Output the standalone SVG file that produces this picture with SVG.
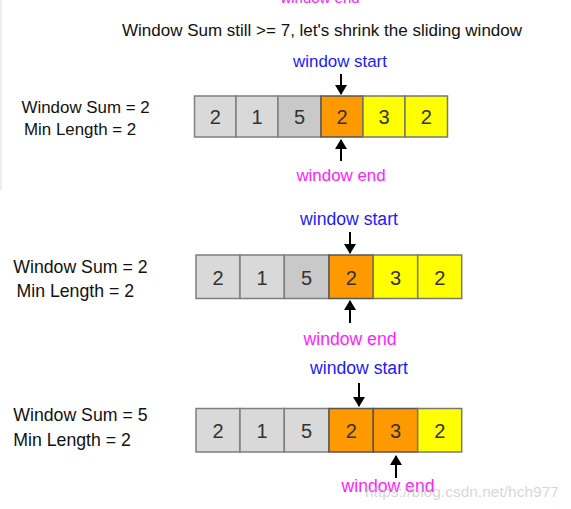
<svg xmlns="http://www.w3.org/2000/svg" width="571" height="509" viewBox="0 0 571 509">
<style>
text{font-family:"Liberation Sans",Arial,sans-serif}
.lbl{fill:#111}
.num{fill:#333;text-anchor:middle;font-size:20px}
.ws{fill:#1a1aff;text-anchor:middle}
.we{fill:#ff22ff;text-anchor:middle}
.g1{fill:#d9d9d9;stroke:#7f7f7f;stroke-width:1.5}
.g2{fill:#c9c9c9;stroke:#7f7f7f;stroke-width:1.5}
.or{fill:#ff9900;stroke:#555;stroke-width:1.5}
.ye{fill:#ffff00;stroke:#777;stroke-width:1.5}
.arr{stroke:#000;stroke-width:2;fill:none;marker-end:url(#ah)}
</style>
<defs>
<marker id="ah" viewBox="0 0 10 10" refX="9" refY="5" markerWidth="5" markerHeight="6" orient="auto" markerUnits="strokeWidth" preserveAspectRatio="none">
<path d="M0,0 L10,5 L0,10 z" fill="#000"/>
</marker>
</defs>
<rect width="571" height="509" fill="#fff"/>
<rect x="0" y="0" width="2" height="190" fill="#eeeeee"/>
<text x="320" y="3" class="we" font-size="15">window end</text>
<text id="title" x="322" y="36" font-size="17" text-anchor="middle" class="lbl">Window Sum still &gt;= 7, let's shrink the sliding window</text>

<g id="row1">
<text x="21.5" y="112.5" font-size="16.9" class="lbl">Window Sum = 2</text>
<text x="24" y="135" font-size="16.9" class="lbl">Min Length = 2</text>
<g id="r1c0"><rect x="194.5" y="96" width="41.5" height="41" class="g1"/><text x="215.2" y="124" class="num">2</text></g>
<g id="r1c1"><rect x="236" y="96" width="42" height="41" class="g1"/><text x="257" y="124" class="num">1</text></g>
<g id="r1c2"><rect x="278" y="96" width="43" height="41" class="g2"/><text x="299.5" y="124" class="num">5</text></g>
<g id="r1c3"><rect x="321" y="96" width="42" height="41" class="or"/><text x="342" y="124" class="num">2</text></g>
<g id="r1c4"><rect x="363" y="96" width="42" height="41" class="ye"/><text x="384" y="124" class="num">3</text></g>
<g id="r1c5"><rect x="405" y="96" width="42.5" height="41" class="ye"/><text x="426.2" y="124" class="num">2</text></g>
<text x="340" y="67" font-size="16.9" class="ws">window start</text>
<text x="341" y="181" font-size="16.9" class="we">window end</text>
</g>

<g id="row2">
<text x="13.3" y="273" font-size="17.7" class="lbl">Window Sum = 2</text>
<text x="16.5" y="296.5" font-size="17.7" class="lbl">Min Length = 2</text>
<g id="r2c0"><rect x="196" y="255" width="44" height="43.5" class="g1"/><text x="218" y="284.5" class="num">2</text></g>
<g id="r2c1"><rect x="240" y="255" width="44.3" height="43.5" class="g1"/><text x="262" y="284.5" class="num">1</text></g>
<g id="r2c2"><rect x="284.3" y="255" width="44.7" height="43.5" class="g2"/><text x="306.6" y="284.5" class="num">5</text></g>
<g id="r2c3"><rect x="329" y="255" width="44.3" height="43.5" class="or"/><text x="351.2" y="284.5" class="num">2</text></g>
<g id="r2c4"><rect x="373.3" y="255" width="44.4" height="43.5" class="ye"/><text x="395.5" y="284.5" class="num">3</text></g>
<g id="r2c5"><rect x="417.7" y="255" width="44" height="43.5" class="ye"/><text x="439.7" y="284.5" class="num">2</text></g>
<text x="349" y="225" font-size="17.6" class="ws">window start</text>
<text x="350" y="345" font-size="17.6" class="we">window end</text>
</g>

<g id="row3">
<text x="13.3" y="420.5" font-size="17.7" class="lbl">Window Sum = 5</text>
<text x="13.3" y="445.5" font-size="17.7" class="lbl">Min Length = 2</text>
<g id="r3c0"><rect x="196" y="408.5" width="44" height="43.5" class="g1"/><text x="218" y="438" class="num">2</text></g>
<g id="r3c1"><rect x="240" y="408.5" width="44.3" height="43.5" class="g1"/><text x="262" y="438" class="num">1</text></g>
<g id="r3c2"><rect x="284.3" y="408.5" width="44.7" height="43.5" class="g1"/><text x="306.6" y="438" class="num">5</text></g>
<g id="r3c3"><rect x="329" y="408.5" width="44.3" height="43.5" class="or"/><text x="351.2" y="438" class="num">2</text></g>
<g id="r3c4"><rect x="373.3" y="408.5" width="44.4" height="43.5" class="or"/><text x="395.5" y="438" class="num">3</text></g>
<g id="r3c5"><rect x="417.7" y="408.5" width="44" height="43.5" class="ye"/><text x="439.7" y="438" class="num">2</text></g>
<text x="359" y="374" font-size="17.6" class="ws">window start</text>
<text x="388" y="492" font-size="17.6" class="we">window end</text>
</g>

<g id="connectors">
<line x1="341" y1="74" x2="341" y2="94" class="arr"/>
<line x1="341" y1="161" x2="341" y2="140" class="arr"/>
<line x1="350" y1="232" x2="350" y2="253" class="arr"/>
<line x1="350" y1="323" x2="350" y2="301" class="arr"/>
<line x1="359" y1="383" x2="359" y2="406" class="arr"/>
<line x1="396" y1="478" x2="396" y2="456" class="arr"/>
</g>
<text x="365" y="497" font-size="15.5" fill="#bbbbbb" fill-opacity="0.6">https://blog.csdn.net/hch977</text>
</svg>
